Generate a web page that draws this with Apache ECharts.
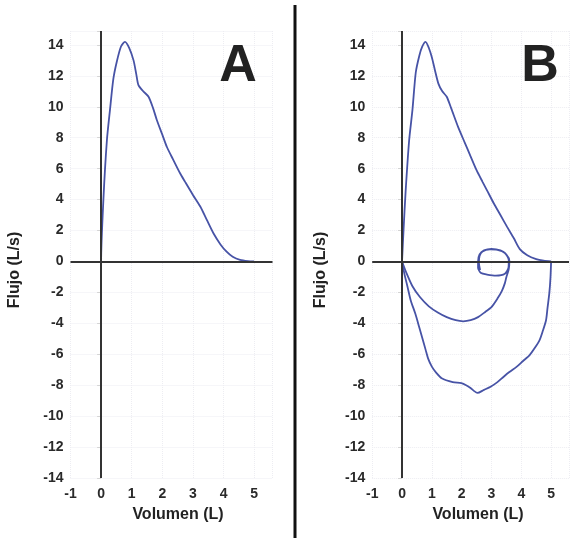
<!DOCTYPE html>
<html>
<head>
<meta charset="utf-8">
<script src="https://cdn.jsdelivr.net/npm/echarts@6/dist/echarts.min.js"></script>
<style>html,body{margin:0;padding:0;background:#fff}#c{width:572px;height:538px}</style>
</head>
<body>
<div id="c"></div>
<script>
// ---- data ----
const xTicks = [-1, 0, 1, 2, 3, 4, 5];
const yTicks = [-14, -12, -10, -8, -6, -4, -2, 0, 2, 4, 6, 8, 10, 12, 14];
const zeroLines = [0];

// Panel A: forced expiratory curve [volume L, flow L/s]
const curveA = [[0,-0.3],[0,0],[0.075,4],[0.19,7.85],[0.29,9.8],[0.4,11.8],[0.51,12.9],[0.65,13.9],[0.78,14.2],[0.92,13.8],[1.06,13.0],[1.15,12.1],[1.22,11.4],[1.38,11.0],[1.55,10.65],[1.7,9.9],[1.82,9.15],[2.0,8.2],[2.15,7.4],[2.35,6.6],[2.58,5.7],[2.74,5.16],[3.0,4.3],[3.24,3.55],[3.45,2.7],[3.67,1.82],[3.9,1.1],[4.1,0.63],[4.3,0.3],[4.54,0.1],[4.8,0.02],[5.0,0]];

// Panel B
const expB = [[0,0],[0.05,2],[0.12,4.5],[0.24,7.85],[0.35,9.8],[0.46,12.2],[0.58,13.3],[0.68,13.9],[0.79,14.2],[0.9,13.8],[1.0,13.2],[1.1,12.4],[1.22,11.5],[1.35,11.0],[1.5,10.65],[1.65,9.9],[1.88,8.7],[2.1,7.7],[2.31,6.75],[2.5,5.9],[2.7,5.15],[2.85,4.6],[3.08,3.75],[3.3,3.0],[3.52,2.25],[3.75,1.5],[3.95,0.8],[4.2,0.4],[4.5,0.15],[4.75,0.05],[5.0,0]];
const inspBigB = [[5.0,0],[4.98,-1],[4.94,-2.05],[4.88,-3.0],[4.83,-3.8],[4.72,-4.5],[4.61,-5.1],[4.45,-5.6],[4.28,-6.05],[4.05,-6.45],[3.85,-6.8],[3.6,-7.15],[3.41,-7.45],[3.2,-7.8],[2.97,-8.1],[2.75,-8.3],[2.53,-8.5],[2.4,-8.35],[2.31,-8.2],[2.15,-8.0],[1.99,-7.87],[1.7,-7.8],[1.33,-7.55],[1.15,-7.2],[1.0,-6.8],[0.88,-6.3],[0.79,-5.7],[0.68,-4.95],[0.57,-4.2],[0.45,-3.4],[0.29,-2.5],[0.18,-1.6],[0.08,-0.8],[0,0]];
const inspSmallB = [[0,0],[0.15,-0.75],[0.35,-1.6],[0.6,-2.3],[0.9,-2.9],[1.2,-3.3],[1.5,-3.6],[1.8,-3.8],[2.05,-3.87],[2.3,-3.8],[2.55,-3.6],[2.8,-3.25],[3.0,-2.95],[3.2,-2.4],[3.35,-1.9],[3.45,-1.4],[3.5,-1.0]];
const tidalB = [[3.5,-1.0],[3.58,-0.5],[3.6,0.05],[3.5,0.45],[3.3,0.72],[3.0,0.82],[2.75,0.72],[2.6,0.45],[2.55,0.0],[2.55,-0.4],[2.65,-0.75],[2.85,-0.85],[3.15,-0.92],[3.45,-0.8],[3.57,-0.4],[3.58,0.1],[3.45,0.55],[3.2,0.75],[2.95,0.78],[2.7,0.65],[2.6,0.35],[2.58,-0.1],[2.62,-0.55]];

// ---- styling ----
const FONT = "'Liberation Sans', Arial, sans-serif";
const BLUE = '#4753a6';
const AXIS = '#333';
const grids = [
  {left: 70.5, top: 31, width: 202, height: 447},
  {left: 372.2, top: 31, width: 201.3, height: 447}
];
function xAx(i){
  return {type:'value', gridIndex:i, min:-1, max:5.6, interval:1,
    axisLine:{show:false}, axisTick:{show:false},
    splitLine:{show:true, lineStyle:{color:'#ededf2', type:'dotted', width:1}},
    axisLabel:{margin:9, fontFamily:FONT, fontWeight:'bold', fontSize:14, color:'#2a2a2a',
      formatter:v => xTicks.indexOf(Math.round(v*1000)/1000) >= 0 ? String(v) : ''}};
}
function yAx(i){
  return {type:'value', gridIndex:i, min:-14, max:14.9, interval:2,
    axisLine:{show:false}, axisTick:{show:true, length:4, lineStyle:{color:'#d4d4d4'}},
    splitLine:{show:true, lineStyle:{color:'#ededf2', type:'dotted', width:1}},
    axisLabel:{margin:7, fontFamily:FONT, fontWeight:'bold', fontSize:14, color:'#2a2a2a',
      formatter:v => yTicks.indexOf(Math.round(v*1000)/1000) >= 0 ? String(v) : ''}};
}
function zeroMark(){
  return {silent:true, symbol:['none','none'], label:{show:false},
    lineStyle:{color:AXIS, width:2, type:'solid'},
    data: zeroLines.map(v => ({xAxis:v})).concat(zeroLines.map(v => ({yAxis:v})))};
}
function curve(data, i, withMark){
  const s = {type:'line', xAxisIndex:i, yAxisIndex:i, data:data, showSymbol:false, symbol:'none',
    smooth:0.25, lineStyle:{color:BLUE, width:1.8}, z:3, animation:false};
  if (withMark) s.markLine = zeroMark();
  return s;
}
function txt(x, y, t, size, rot){
  return {type:'text', x:x, y:y, rotation:rot||0, z:10,
    style:{text:t, font:'bold '+size+'px '+FONT, fill:'#222', textAlign:'center', textVerticalAlign:'middle'}};
}

const chart = echarts.init(document.getElementById('c'), null, {renderer:'canvas'});
chart.setOption({
  animation:false,
  grid: grids,
  xAxis: [xAx(0), xAx(1)],
  yAxis: [yAx(0), yAx(1)],
  series: [
    curve(curveA, 0, true),
    curve(expB, 1, true),
    curve(inspBigB, 1, false),
    curve(inspSmallB, 1, false),
    curve(tidalB, 1, false)
  ],
  graphic: [
    {type:'line', shape:{x1:295, y1:5, x2:295, y2:538}, style:{stroke:'#111', lineWidth:3}},
    txt(238, 67, 'A', 52),
    txt(540, 67, 'B', 52),
    txt(178, 515, 'Volumen (L)', 16),
    txt(478, 515, 'Volumen (L)', 16),
    txt(15, 270, 'Flujo (L/s)', 16, Math.PI/2),
    txt(321, 270, 'Flujo (L/s)', 16, Math.PI/2)
  ]
});
</script>
</body>
</html>
